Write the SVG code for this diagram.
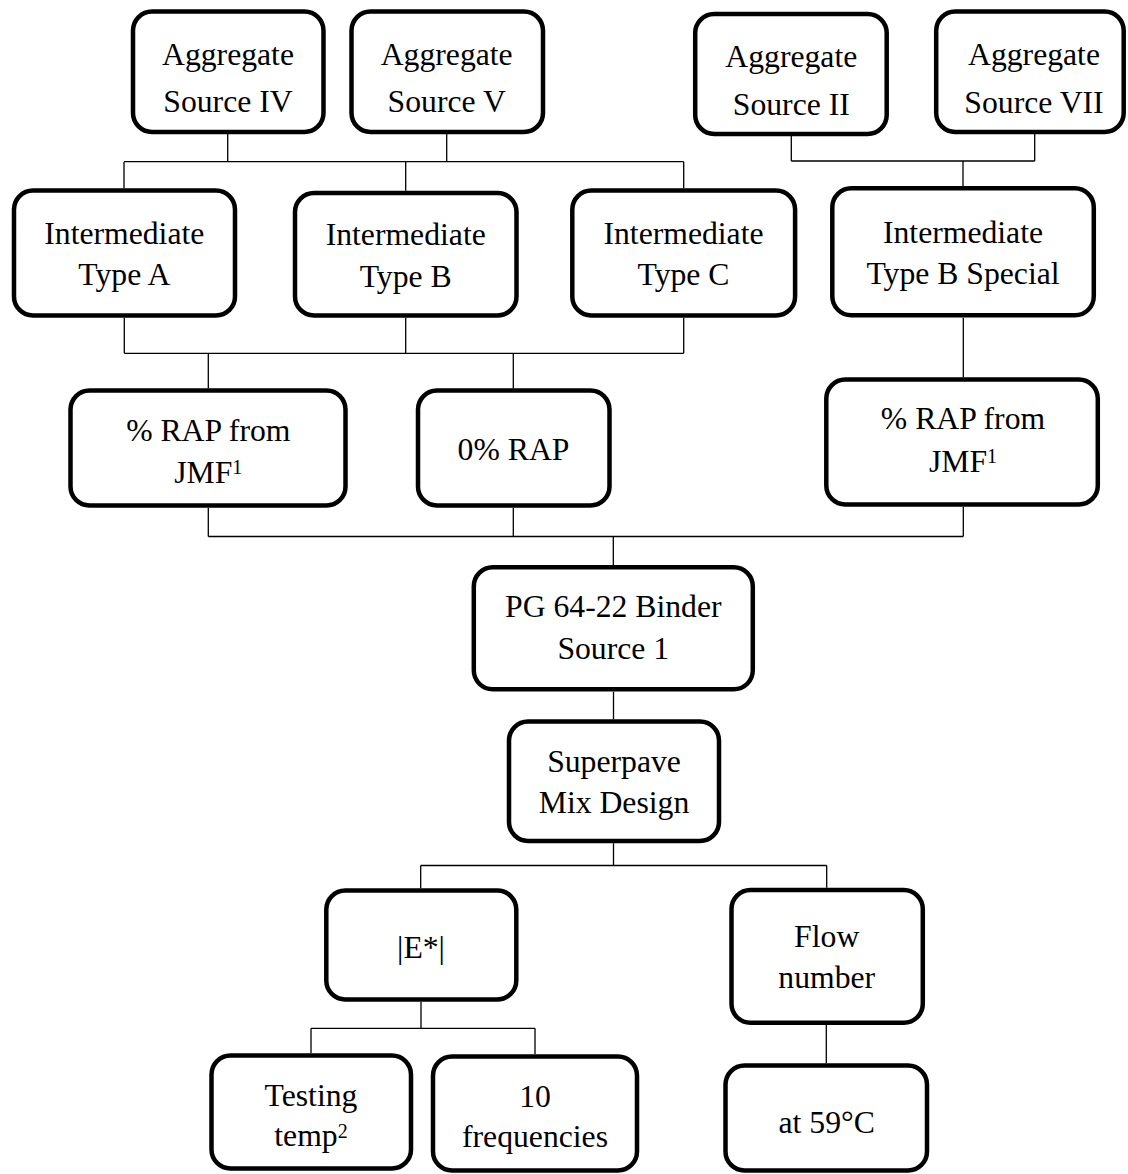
<svg xmlns="http://www.w3.org/2000/svg" width="1128" height="1174" viewBox="0 0 1128 1174">
  <style>
    .box { fill: #ffffff; stroke: #000000; stroke-width: 4.5; }
    .lbl { font-family: "Liberation Serif", "Times New Roman", serif; font-size: 31.7px; fill: #000000; text-anchor: middle; }
    .sup { font-size: 20px; }
    .wire { fill: none; stroke: #000000; stroke-width: 1.3; }
  </style>
  <rect width="1128" height="1174" fill="#ffffff"/>

  <!-- connectors -->
  <g id="connectors" class="wire">
    <path d="M227.7 134 V161.7 M446.7 134 V161.7 M124 161.7 H683.7 M124 161.7 V188.5 M405.7 161.7 V190.7 M683.7 161.7 V188.5"/>
    <path d="M791.3 136 V161 M1034.7 134 V161 M791.3 161 H1034.7 M963 161 V186"/>
    <path d="M124.3 317.7 V353.3 M405.7 317.7 V353.3 M683.7 317.7 V353.3 M124.3 353.3 H683.7 M208.3 353.3 V388.5 M513.3 353.3 V388.5"/>
    <path d="M963.3 317.7 V377.5"/>
    <path d="M208.3 507.7 V536.5 M513.3 507.7 V536.5 M963.3 506.7 V536.5 M208.3 536.5 H963.3 M613.3 536.5 V565"/>
    <path d="M613.5 691.7 V719.3"/>
    <path d="M613.5 843.3 V865.5 M420.7 865.5 H826.7 M420.7 865.5 V888.3 M826.7 865.5 V887.7"/>
    <path d="M421 1001.7 V1028.3 M311 1028.3 H535 M311 1028.3 V1053.3 M535 1028.3 V1054.3"/>
    <path d="M826.3 1025 V1063.3"/>
  </g>

  <!-- aggregate sources -->
  <g id="agg-iv">
    <rect class="box" x="133" y="11.5" width="190.5" height="120.5" rx="19"/>
    <text class="lbl" x="228" y="65">Aggregate</text>
    <text class="lbl" x="228" y="111.7">Source IV</text>
  </g>
  <g id="agg-v">
    <rect class="box" x="351.5" y="11.5" width="191.5" height="120.5" rx="19"/>
    <text class="lbl" x="446.7" y="65">Aggregate</text>
    <text class="lbl" x="446.7" y="111.7">Source V</text>
  </g>
  <g id="agg-ii">
    <rect class="box" x="695.2" y="14" width="191.5" height="120" rx="19"/>
    <text class="lbl" x="791.3" y="66.7">Aggregate</text>
    <text class="lbl" x="791.3" y="114.7">Source II</text>
  </g>
  <g id="agg-vii">
    <rect class="box" x="936.2" y="11.5" width="187.5" height="120.5" rx="19"/>
    <text class="lbl" x="1034" y="65">Aggregate</text>
    <text class="lbl" x="1034" y="112.7">Source VII</text>
  </g>

  <!-- mix types -->
  <g id="type-a">
    <rect class="box" x="14" y="190.5" width="221" height="125" rx="19"/>
    <text class="lbl" x="124.3" y="244">Intermediate</text>
    <text class="lbl" x="124.3" y="285">Type A</text>
  </g>
  <g id="type-b">
    <rect class="box" x="295" y="193" width="221.5" height="122.5" rx="19"/>
    <text class="lbl" x="405.7" y="245">Intermediate</text>
    <text class="lbl" x="405.7" y="286.7">Type B</text>
  </g>
  <g id="type-c">
    <rect class="box" x="572.3" y="190.5" width="222.8" height="125" rx="19"/>
    <text class="lbl" x="683.5" y="244">Intermediate</text>
    <text class="lbl" x="683.5" y="285">Type C</text>
  </g>
  <g id="type-b-special">
    <rect class="box" x="832.3" y="188.3" width="261.5" height="127" rx="19"/>
    <text class="lbl" x="963" y="243.3">Intermediate</text>
    <text class="lbl" x="963" y="284">Type B Special</text>
  </g>

  <!-- RAP content -->
  <g id="rap-left">
    <rect class="box" x="70.5" y="390.5" width="275" height="115" rx="19"/>
    <text class="lbl" x="208.3" y="440.7">% RAP from</text>
    <text class="lbl" x="208.3" y="482.7">JMF<tspan class="sup" dy="-8.5">1</tspan></text>
  </g>
  <g id="rap-zero">
    <rect class="box" x="418" y="390.5" width="191.5" height="115" rx="19"/>
    <text class="lbl" x="513.5" y="460">0% RAP</text>
  </g>
  <g id="rap-right">
    <rect class="box" x="826.3" y="379.5" width="271.5" height="125" rx="19"/>
    <text class="lbl" x="963" y="429.3">% RAP from</text>
    <text class="lbl" x="963" y="471.7">JMF<tspan class="sup" dy="-8.5">1</tspan></text>
  </g>

  <!-- binder and design -->
  <g id="binder">
    <rect class="box" x="473.8" y="567.3" width="279" height="122" rx="19"/>
    <text class="lbl" x="613.3" y="617.3">PG 64-22 Binder</text>
    <text class="lbl" x="613.3" y="659.3">Source 1</text>
  </g>
  <g id="superpave">
    <rect class="box" x="509" y="721.5" width="210" height="119.5" rx="19"/>
    <text class="lbl" x="614" y="771.7">Superpave</text>
    <text class="lbl" x="614" y="812.7">Mix Design</text>
  </g>

  <!-- tests -->
  <g id="dyn-modulus">
    <rect class="box" x="326.3" y="890.5" width="190" height="109" rx="19"/>
    <text class="lbl" x="421" y="958.3">|E*|</text>
  </g>
  <g id="flow-number">
    <rect class="box" x="731.5" y="890" width="191.3" height="132.8" rx="19"/>
    <text class="lbl" x="826.7" y="946.7">Flow</text>
    <text class="lbl" x="826.7" y="988.3">number</text>
  </g>
  <g id="testing-temp">
    <rect class="box" x="211.5" y="1055.5" width="199.5" height="113" rx="19"/>
    <text class="lbl" x="311" y="1106">Testing</text>
    <text class="lbl" x="311" y="1146">temp<tspan class="sup" dy="-8.5">2</tspan></text>
  </g>
  <g id="frequencies">
    <rect class="box" x="433" y="1056.5" width="204" height="114" rx="19"/>
    <text class="lbl" x="535" y="1107.3">10</text>
    <text class="lbl" x="535" y="1146.7">frequencies</text>
  </g>
  <g id="flow-temp">
    <rect class="box" x="725.5" y="1065.5" width="201.5" height="105" rx="19"/>
    <text class="lbl" x="826.7" y="1132.7">at 59°C</text>
  </g>
</svg>
